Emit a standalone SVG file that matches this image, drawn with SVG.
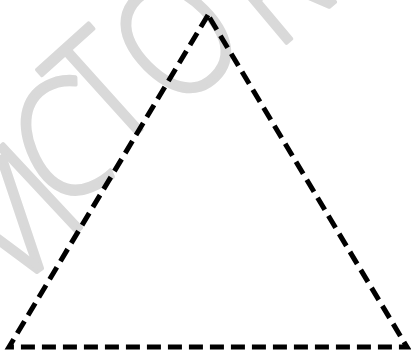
<svg xmlns="http://www.w3.org/2000/svg" width="411" height="351" viewBox="0 0 411 351">
<style>
.wm{font-family:"Open Sans","Liberation Sans",Arial,sans-serif;font-weight:300;font-size:160px;fill:#d9d9d9;stroke:#d9d9d9;stroke-width:4;stroke-linejoin:round;text-anchor:middle}
.edge{fill:none;stroke:#000;stroke-width:5;stroke-dasharray:14 7;stroke-linejoin:miter}
</style>
<rect width="411" height="351" fill="#fff"/>
<g id="watermark">
<text class="wm" transform="translate(6,224) rotate(-36) scale(0.85,1)" y="57">V</text>
<text class="wm" transform="translate(40,188) rotate(-43) scale(0.85,1)" y="57">I</text>
<text class="wm" transform="translate(60,140) rotate(-22) scale(0.85,1)" y="57">C</text>
<text class="wm" transform="translate(101,89) rotate(-42) scale(0.85,1)" y="57">T</text>
<text class="wm" transform="translate(176,38) rotate(-45) scale(0.85,1)" y="57">O</text>
<text class="wm" transform="translate(270,-18) rotate(-40) scale(0.85,1)" y="57">R</text>
</g>
<g id="triangle">
<polygon class="edge" points="208,15 9,347 407,347"/>
</g>
</svg>
